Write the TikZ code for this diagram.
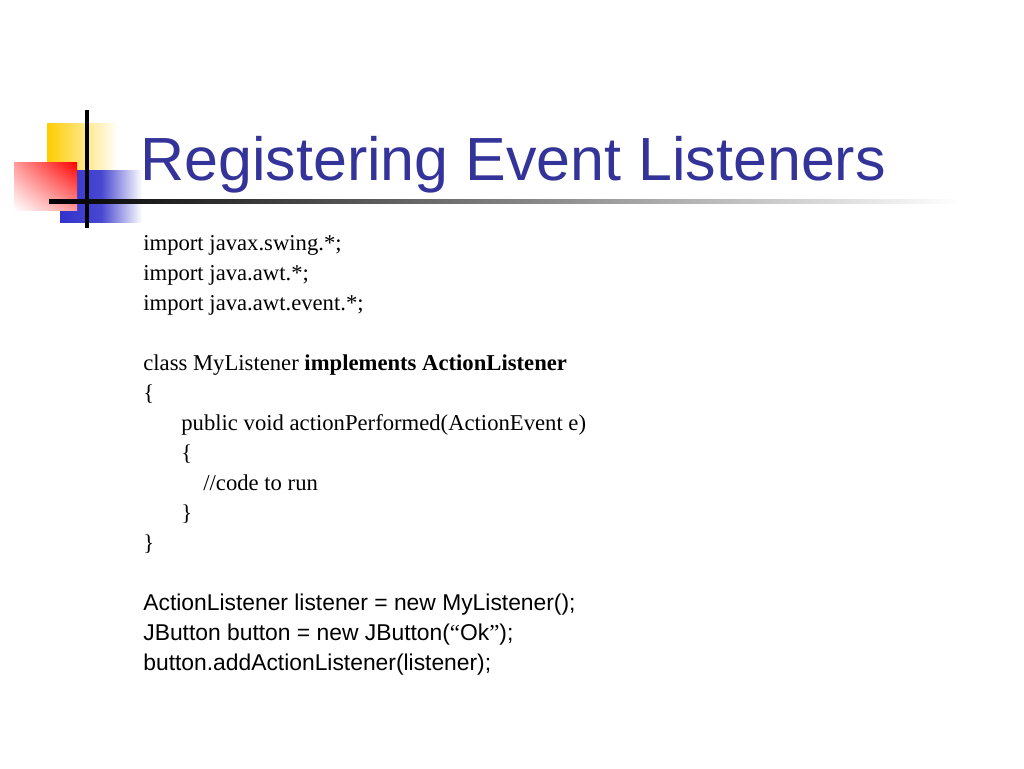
\documentclass[tikz,border=0pt]{standalone}
\usepackage{fontspec}
\usetikzlibrary{shadings}
\setmainfont{Liberation Serif}
\setsansfont{Liberation Sans}
\definecolor{titleblue}{RGB}{51,51,153}
\definecolor{logoyellow}{RGB}{255,204,0}
\definecolor{logoblue}{RGB}{51,51,204}
\tikzset{
  code/.style={anchor=base west,inner sep=0pt,font=\fontsize{12.9}{15}\selectfont},
  sanscode/.style={code,font=\fontsize{13}{15}\sffamily\selectfont},
}
\begin{document}
\begin{tikzpicture}[x=0.02cm,y=-0.02cm]
      \useasboundingbox (0,0) rectangle (1024,768);
      % logo
      \shade[left color=logoyellow,right color=white] (47,123) rectangle (118,172);
      \shade[left color=logoblue,right color=white,middle color=logoblue!90] (60,170) rectangle (142,222);
      \shade[lower left=white,upper right=red,lower right=red!40,upper left=red!40] (14,162) rectangle (77,210);
      \draw[line width=2.5pt] (87,110) -- (87,228);
      \shade[left color=black,right color=white] (49,199) rectangle (960,203);
      % title
      \node[anchor=base west,inner sep=0pt,text=titleblue,font=\fontsize{34.7}{40}\sffamily\selectfont] (title) at (140,180) {Registering Event Listeners};
      % code lines
      \node[code] (l1) at (143,250) {import javax.swing.*;};
      \node[code] (l2) at (143,280) {import java.awt.*;};
      \node[code] (l3) at (143,310) {import java.awt.event.*;};
      \node[code] (l4) at (143,370) {class MyListener \textbf{implements ActionListener}};
      \node[code] (l5) at (143,400) {\{};
      \node[code] (l6) at (181,430) {public void actionPerformed(ActionEvent e)};
      \node[code] (l7) at (181,460) {\{};
      \node[code] (l8) at (203,490) {//code to run};
      \node[code] (l9) at (181,520) {\}};
      \node[code] (l10) at (143,550) {\}};
      \node[sanscode] (l11) at (143,610) {ActionListener listener = new MyListener();};
      \node[sanscode] (l12) at (143,640) {JButton button = new JButton({\rmfamily``}Ok{\rmfamily''});};
      \node[sanscode] (l13) at (143,670) {button.addActionListener(listener);};
\end{tikzpicture}
\end{document}
